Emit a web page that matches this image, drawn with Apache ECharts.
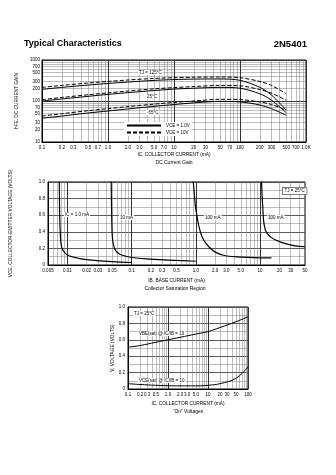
<!DOCTYPE html>
<html>
<head>
<meta charset="utf-8">
<script src="https://cdn.jsdelivr.net/npm/echarts@6/dist/echarts.min.js"></script>
<style>
  html, body { margin: 0; padding: 0; background: #fff; }
  #c { width: 336px; height: 475px; }
</style>
</head>
<body>
<div id="c"></div>
<script>
// ---- DC current gain: hFE vs collector current (mA) ----
const gainCurrent   = [0.1, 0.2, 0.5, 1, 2, 5, 10, 20, 50, 100, 200, 300, 500];
const gainHot10V    = [215, 240, 275, 300, 325, 355, 370, 380, 385, 370, 300, 240, 150];
const gainHot1V     = [192, 215, 245, 268, 290, 318, 333, 342, 345, 320, 215, 140, 60];
const gainRoom10V   = [108, 122, 142, 158, 175, 198, 212, 225, 240, 235, 190, 155, 105];
const gainRoom1V    = [100, 112, 130, 145, 160, 180, 195, 205, 215, 205, 150, 105, 52];
const gainCold10V   = [43, 49, 58, 65, 73, 84, 92, 100, 110, 108, 95, 82, 60];
const gainCold1V    = [38, 43, 51, 57, 64, 74, 82, 90, 98, 95, 80, 65, 45];
const gainXTicks  = [0.1, 0.2, 0.3, 0.5, 0.7, 1, 2, 3, 5, 7, 10, 20, 30, 50, 70, 100, 200, 300, 500, 700, 1000];
const gainXLabels = ['0.1','0.2','0.3','0.5','0.7','1.0','2.0','3.0','5.0','7.0','10','20','30','50','70','100','200','300','500','700','1.0K'];
const gainYTicks  = [10, 20, 30, 50, 70, 100, 200, 300, 500, 700, 1000];
const gainYLabels = ['10','20','30','50','70','100','200','300','500','700','1000'];

// ---- Collector saturation region: VCE vs base current (mA) ----
const sat1mA_IB    = [0.0075, 0.0076, 0.0078, 0.008, 0.0085, 0.01, 0.015, 0.02, 0.05, 0.1];
const sat1mA_V     = [1.05, 0.6, 0.35, 0.25, 0.18, 0.12, 0.08, 0.065, 0.04, 0.03];
const sat10mA_IB   = [0.048, 0.049, 0.05, 0.052, 0.055, 0.06, 0.07, 0.1, 0.2, 0.5, 1.0];
const sat10mA_V    = [1.05, 0.6, 0.35, 0.25, 0.19, 0.15, 0.12, 0.09, 0.07, 0.055, 0.045];
const sat100mA_IB  = [0.9, 0.95, 1.0, 1.25, 1.8, 2.6, 4, 8, 15];
const sat100mA_V   = [1.05, 0.85, 0.67, 0.34, 0.18, 0.12, 0.1, 0.09, 0.085];
const sat300mA_IB  = [10.5, 11, 12, 15, 22, 35, 50];
const sat300mA_V   = [1.05, 0.7, 0.43, 0.33, 0.27, 0.23, 0.22];
const satXTicks  = [0.005, 0.01, 0.02, 0.03, 0.05, 0.1, 0.2, 0.3, 0.5, 1, 2, 3, 5, 10, 20, 30, 50];
const satXLabels = ['0.005','0.01','0.02','0.03','0.05','0.1','0.2','0.3','0.5','1.0','2.0','3.0','5.0','10','20','30','50'];

// ---- "On" voltages vs collector current (mA) ----
const onCurrent  = [0.1, 0.2, 0.5, 1, 2, 5, 10, 20, 50, 100];
const onVbeSat   = [0.51, 0.53, 0.57, 0.6, 0.63, 0.67, 0.7, 0.75, 0.82, 0.88];
const onVceSat   = [0.065, 0.055, 0.045, 0.04, 0.038, 0.038, 0.045, 0.065, 0.13, 0.27];
const onXTicks   = [0.1, 0.2, 0.3, 0.5, 1, 2, 3, 5, 10, 20, 30, 50, 100];
const onXLabels  = ['0.1','0.2','0.3','0.5','1.0','2.0','3.0','5.0','10','20','30','50','100'];

const voltTicks  = [0, 0.2, 0.4, 0.6, 0.8, 1.0];
const voltLabels = ['0','0.2','0.4','0.6','0.8','1.0'];

const FONT = 'Liberation Sans';
const FS = 4.5;
const MINOR = '#7a7a7a';
const MAJOR = '#333';

// 1..9 steps of every decade inside [min, max]
function logSteps(min, max, onlyDecades) {
  const out = [];
  for (let e = Math.floor(Math.log10(min)) - 1; e <= Math.ceil(Math.log10(max)); e++) {
    for (let m = 1; m < 10; m++) {
      if (onlyDecades && m > 1) break;
      const v = Number((m * Math.pow(10, e)).toPrecision(6));
      if (v >= min * 0.9999 && v <= max * 1.0001) out.push(v);
    }
  }
  return out;
}
function labelFor(ticks, labels) {
  return function (v) {
    for (let i = 0; i < ticks.length; i++) {
      if (Math.abs(v - ticks[i]) <= Math.abs(ticks[i]) * 1e-6 + 1e-9) return labels[i];
    }
    return '';
  };
}
function pairs(xs, ys) { return xs.map((x, i) => [x, ys[i]]); }

const nameStyle = { fontSize: 4.8, fontFamily: FONT, color: '#000' };
const labStyle = { fontSize: FS, fontFamily: FONT, color: '#000' };

function logAxis(grid, min, max, ticks, labels, pos, name, gap, labelMargin) {
  return [{
    type: 'log', logBase: 10, gridIndex: grid, min: min, max: max, position: pos,
    name: name, nameLocation: 'middle', nameGap: gap, nameTextStyle: nameStyle,
    axisLine: { show: true, lineStyle: { color: '#000', width: 1 } },
    axisTick: { show: false, customValues: logSteps(min, max, false) },
    axisLabel: Object.assign({ customValues: ticks, formatter: labelFor(ticks, labels), margin: labelMargin, hideOverlap: false }, labStyle),
    splitLine: { show: true, lineStyle: { color: MINOR, width: 0.5 } }
  }, {
    type: 'log', logBase: 10, gridIndex: grid, min: min, max: max, position: pos,
    axisLine: { show: false }, axisLabel: { show: false },
    axisTick: { show: false, customValues: logSteps(min, max, true) },
    splitLine: { show: true, lineStyle: { color: MAJOR, width: 1 } }
  }];
}
function voltAxis(grid, name, gap) {
  return [{
    type: 'value', gridIndex: grid, min: 0, max: 1, interval: 0.1,
    name: name, nameLocation: 'middle', nameGap: gap, nameTextStyle: nameStyle,
    axisLine: { show: true, lineStyle: { color: '#000', width: 1 } },
    axisTick: { show: false },
    axisLabel: Object.assign({ customValues: voltTicks, formatter: labelFor(voltTicks, voltLabels), margin: 3 }, labStyle),
    splitLine: { show: true, lineStyle: { color: MINOR, width: 0.5 } }
  }, {
    type: 'value', gridIndex: grid, min: 0, max: 1, interval: 0.2,
    axisLine: { show: false }, axisLabel: { show: false }, axisTick: { show: false },
    splitLine: { show: true, lineStyle: { color: '#444', width: 0.8 } }
  }];
}

const xAxes = [].concat(
  logAxis(0, 0.1, 1000, gainXTicks, gainXLabels, 'bottom', 'IC, COLLECTOR CURRENT (mA)', 10, 3),
  logAxis(1, 0.005, 50, satXTicks, satXLabels, 'bottom', 'IB, BASE CURRENT (mA)', 13, 3),
  logAxis(2, 0.1, 100, onXTicks, onXLabels, 'bottom', 'IC, COLLECTOR CURRENT (mA)', 12, 3)
);
const yAxes = [].concat(
  logAxis(0, 10, 1000, gainYTicks, gainYLabels, 'left', 'hFE, DC CURRENT GAIN', 16, 2),
  voltAxis(1, 'VCE, COLLECTOR-EMITTER VOLTAGE (VOLTS)', 35),
  voltAxis(2, 'V, VOLTAGE (VOLTS)', 9)
);

function curve(name, xi, yi, data, dashed, width, smooth) {
  return {
    name: name, type: 'line', xAxisIndex: xi, yAxisIndex: yi, data: data,
    symbol: 'none', smooth: smooth, z: 5, silent: true,
    lineStyle: { color: '#000', width: width, type: dashed ? [4, 2] : 'solid' }
  };
}

const series = [
  curve('VCE = 1.0V', 0, 0, pairs(gainCurrent, gainHot1V), false, 1, 0.3),
  curve('VCE = 10V', 0, 0, pairs(gainCurrent, gainHot10V), true, 1, 0.3),
  curve('VCE = 1.0V', 0, 0, pairs(gainCurrent, gainRoom1V), false, 1, 0.3),
  curve('VCE = 10V', 0, 0, pairs(gainCurrent, gainRoom10V), true, 1, 0.3),
  curve('VCE = 1.0V', 0, 0, pairs(gainCurrent, gainCold1V), false, 1, 0.3),
  curve('VCE = 10V', 0, 0, pairs(gainCurrent, gainCold10V), true, 1, 0.3),
  curve('1.0 mA', 2, 2, pairs(sat1mA_IB, sat1mA_V), false, 1.2, 0.4),
  curve('10 mA', 2, 2, pairs(sat10mA_IB, sat10mA_V), false, 1.2, 0.4),
  curve('100 mA', 2, 2, pairs(sat100mA_IB, sat100mA_V), false, 1.2, 0.4),
  curve('300 mA', 2, 2, pairs(sat300mA_IB, sat300mA_V), false, 1.2, 0.4),
  curve('VBE(sat)', 4, 4, pairs(onCurrent, onVbeSat), false, 1, 0.4),
  curve('VCE(sat)', 4, 4, pairs(onCurrent, onVceSat), false, 1, 0.4)
];

function tag(text, x, y, extra) {
  return {
    type: 'text', left: x, top: y, z: 10, silent: true,
    style: Object.assign({ text: text, font: '4.5px "' + FONT + '"', fill: '#000',
      backgroundColor: '#fff', padding: [0, 1] }, extra || {})
  };
}
function caption(text, cx, y) {
  return {
    type: 'text', x: cx, y: y, z: 10, silent: true,
    style: { text: text, font: '5px "' + FONT + '"', fill: '#000', align: 'center', verticalAlign: 'top' }
  };
}

const graphics = [
  { type: 'text', left: 24, top: 39, style: { text: 'Typical Characteristics', font: 'bold 9px "' + FONT + '"', fill: '#000' } },
  { type: 'text', right: 29, top: 39, style: { text: '2N5401', font: 'bold 9.5px "' + FONT + '"', fill: '#000' } },
  caption('DC Current Gain', 174, 160),
  caption('Collector Saturation Region', 175, 286),
  caption('\u201COn\u201D Voltages', 188, 409),
  tag('TJ = 125\u00B0C', 138, 70),
  tag('25\u00B0C', 146, 94),
  tag('-55\u00B0C', 146, 110),
  tag('IC = 1.0 mA', 64, 212),
  tag('10 mA', 119, 215),
  tag('100 mA', 204, 215),
  tag('300 mA', 267, 215),
  tag('TJ = 25\u00B0C', 282, 187, { borderColor: '#000', borderWidth: 0.5, padding: [1, 2] }),
  tag('TJ = 25\u00B0C', 133, 311),
  tag('VBE(sat) @ IC/IB = 10', 138, 331),
  tag('VCE(sat) @ IC/IB = 10', 138, 378)
];

const chart = echarts.init(document.getElementById('c'), null, { renderer: 'canvas', width: 336, height: 475 });
chart.setOption({
  animation: false,
  backgroundColor: '#fff',
  grid: [
    { left: 42, top: 60, width: 264, height: 82, show: true, borderColor: '#000', borderWidth: 1, containLabel: false },
    { left: 45, top: 182, width: 260, height: 83, show: true, borderColor: '#000', borderWidth: 1, containLabel: false },
    { left: 128, top: 307, width: 120, height: 82, show: true, borderColor: '#000', borderWidth: 1, containLabel: false }
  ],
  legend: {
    data: ['VCE = 1.0V', 'VCE = 10V'],
    orient: 'vertical', left: 124, top: 122, itemWidth: 34, itemHeight: 4, itemGap: 2,
    backgroundColor: '#fff', padding: [1, 2], z: 10,
    itemStyle: { opacity: 0 },
    textStyle: { fontSize: FS, fontFamily: FONT, color: '#000' },
    selectedMode: false
  },
  xAxis: xAxes,
  yAxis: yAxes,
  series: series,
  graphic: graphics
});
</script>
</body>
</html>
